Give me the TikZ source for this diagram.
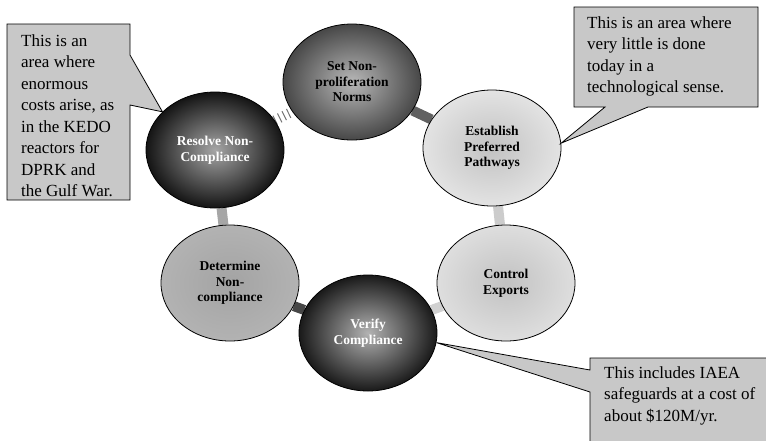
\documentclass[tikz,border=0pt]{standalone}
\usepackage{fontspec}
\setmainfont{Liberation Serif}
\usetikzlibrary{shapes.geometric,backgrounds}
\definecolor{boxgray}{RGB}{200,200,200}
\tikzset{
  stage/.style={ellipse, draw=black, line width=0.8pt, inner sep=0pt,
    minimum width=138pt, minimum height=116pt, align=center,
    font=\fontsize{13.5}{15.5}\selectfont\bfseries},
  darkstage/.style={stage, text=white},
  link/.style={line width=10pt},
  note/.style={draw=black, line width=0.8pt, fill=boxgray},
  notetext/.style={anchor=north west, inner sep=0pt, align=left,
    font=\fontsize{17}{21.5}\selectfont}
}
\begin{document}
\begin{tikzpicture}[x=1pt,y=-1pt]
\useasboundingbox (0,0) rectangle (766,440);
\clip (0,0) rectangle (766,440);

\node[stage, inner color=black!28, outer color=black!72] (norms) at (352,82) {Set Non-\\proliferation\\Norms};
\node[stage, inner color=black!24, outer color=black!11] (paths) at (492,148) {Establish\\Preferred\\Pathways};
\node[stage, inner color=black!24, outer color=black!13] (exports) at (506,283) {Control\\Exports};
\node[darkstage, inner color=black!30, outer color=black!90] (verify) at (368,333) {Verify\\Compliance};
\node[stage, inner color=black!36, outer color=black!30] (determine) at (230,283) {Determine\\Non-\\compliance};
\node[darkstage, inner color=black!35, outer color=black!92] (resolve) at (215,150) {Resolve Non-\\Compliance};

\begin{scope}[on background layer]
\draw[link, black!62] (norms) -- (paths);
\draw[link, black!20] (paths) -- (exports);
\draw[link, black!18] (exports) -- (verify);
\draw[link, black!72] (verify) -- (determine);
\draw[link, black!35] (determine) -- (resolve);
\draw[link, black!55, dash pattern=on 1pt off 4pt] (resolve) -- (norms);
\end{scope}

\draw[note] (7,24) -- (130,24) -- (130,55) -- (resolve.144) -- (130,105) -- (130,200) -- (7,200) -- cycle;
\node[notetext] (costs) at (21,34) {This is an\\area where\\enormous\\costs arise, as\\in the KEDO\\reactors for\\DPRK and\\the Gulf War.};

\draw[note] (574,7) -- (758,7) -- (758,107) -- (648,107) -- (paths.4) -- (605,107) -- (574,107) -- cycle;
\node[notetext] (little) at (587,16) {This is an area where\\very little is done\\today in a\\technological sense.};

\draw[note] (590,358) -- (780,358) -- (780,460) -- (590,460) -- (590,392) -- (verify.-8) -- (590,370) -- cycle;
\node[notetext] (iaea) at (604,366) {This includes IAEA\\safeguards at a cost of\\about \$120M/yr.};
\end{tikzpicture}
\end{document}
